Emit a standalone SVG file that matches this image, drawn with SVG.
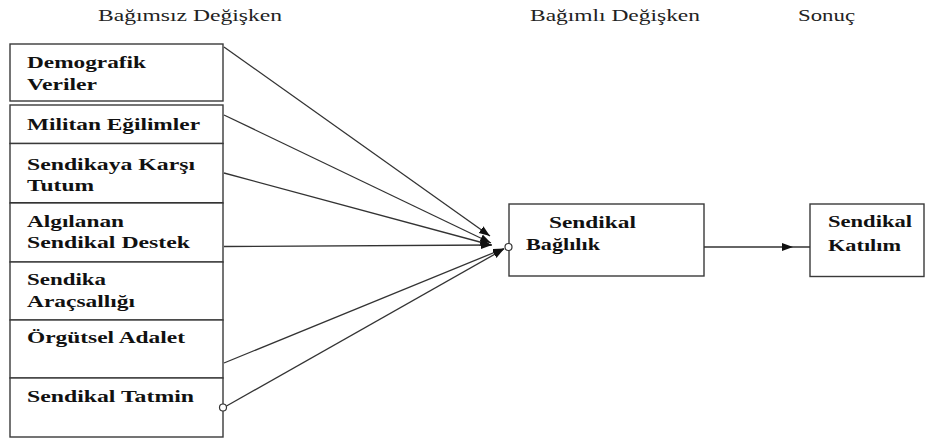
<svg xmlns="http://www.w3.org/2000/svg" width="928" height="438" viewBox="0 0 928 438">
  <defs>
    <style>
      .box { fill: #ffffff; stroke: #3a3a3a; stroke-width: 1.4; }
      .lbl { font-weight: bold; font-size: 17.5px; fill: #111; }
      .hdr { font-size: 16px; fill: #222; }
      .edge { fill: none; stroke: #333; stroke-width: 1.3; }
      .dot { fill: #ffffff; stroke: #333; stroke-width: 1.2; }
    </style>
    <marker id="arrow" markerUnits="userSpaceOnUse" markerWidth="12" markerHeight="9" refX="11" refY="4" orient="auto">
      <path d="M0,0 L11,4 L0,8 z" fill="#111"/>
    </marker>
  </defs>

  <rect width="928" height="438" fill="#ffffff"/>

  <g font-family="'Liberation Serif', 'Times New Roman', Times, 'DejaVu Serif', 'Noto Serif', serif">
  <!-- column headings -->
  <g id="headings">
    <text class="hdr" x="98" y="21" textLength="184" lengthAdjust="spacingAndGlyphs">Bağımsız Değişken</text>
    <text class="hdr" x="530" y="21" textLength="170" lengthAdjust="spacingAndGlyphs">Bağımlı Değişken</text>
    <text class="hdr" x="798" y="21" textLength="57" lengthAdjust="spacingAndGlyphs">Sonuç</text>
  </g>

  <!-- independent variables -->
  <g id="demografik">
    <rect class="box" x="10" y="44" width="213" height="57"/>
    <text class="lbl" x="27" y="68" textLength="119" lengthAdjust="spacingAndGlyphs">Demografik</text>
    <text class="lbl" x="27" y="90" textLength="70" lengthAdjust="spacingAndGlyphs">Veriler</text>
  </g>
  <g id="militan">
    <rect class="box" x="10" y="105" width="213" height="38.5"/>
    <text class="lbl" x="27" y="129.5" textLength="173" lengthAdjust="spacingAndGlyphs">Militan Eğilimler</text>
  </g>
  <g id="sendikaya-karsi">
    <rect class="box" x="10" y="143.5" width="213" height="59.5"/>
    <line x1="10" y1="203" x2="223" y2="203" stroke="#222" stroke-width="2.2"/>
    <text class="lbl" x="27" y="169.5" textLength="168" lengthAdjust="spacingAndGlyphs">Sendikaya Karşı</text>
    <text class="lbl" x="27" y="190.5" textLength="67" lengthAdjust="spacingAndGlyphs">Tutum</text>
  </g>
  <g id="algilanan-destek">
    <rect class="box" x="10" y="203" width="213" height="59"/>
    <text class="lbl" x="27" y="226.5" textLength="97" lengthAdjust="spacingAndGlyphs">Algılanan</text>
    <text class="lbl" x="27" y="248" textLength="163" lengthAdjust="spacingAndGlyphs">Sendikal Destek</text>
  </g>
  <g id="aracsallik">
    <rect class="box" x="10" y="262" width="213" height="58"/>
    <text class="lbl" x="27" y="285" textLength="79" lengthAdjust="spacingAndGlyphs">Sendika</text>
    <text class="lbl" x="27" y="306.5" textLength="108" lengthAdjust="spacingAndGlyphs">Araçsallığı</text>
  </g>
  <g id="orgutsel-adalet">
    <rect class="box" x="10" y="320" width="213" height="58"/>
    <text class="lbl" x="27" y="343" textLength="158" lengthAdjust="spacingAndGlyphs">Örgütsel Adalet</text>
  </g>
  <g id="sendikal-tatmin">
    <rect class="box" x="10" y="378" width="213" height="59"/>
    <text class="lbl" x="27" y="401.5" textLength="167" lengthAdjust="spacingAndGlyphs">Sendikal Tatmin</text>
  </g>

  <!-- dependent variable -->
  <g id="sendikal-baglilik">
    <rect class="box" x="509" y="204" width="195" height="72"/>
    <text class="lbl" x="549" y="227.5" textLength="87" lengthAdjust="spacingAndGlyphs">Sendikal</text>
    <text class="lbl" x="526" y="250" textLength="74" lengthAdjust="spacingAndGlyphs">Bağlılık</text>
  </g>

  <!-- outcome -->
  <g id="sendikal-katilim">
    <rect class="box" x="810" y="204" width="114" height="72.5"/>
    <text class="lbl" x="828" y="226.5" textLength="84" lengthAdjust="spacingAndGlyphs">Sendikal</text>
    <text class="lbl" x="828" y="250.5" textLength="73" lengthAdjust="spacingAndGlyphs">Katılım</text>
  </g>
  </g>

  <!-- connectors -->
  <g id="connectors">
    <line class="edge" x1="224" y1="47" x2="490" y2="236" marker-end="url(#arrow)"/>
    <line class="edge" x1="224" y1="115" x2="491" y2="243" marker-end="url(#arrow)"/>
    <line class="edge" x1="224" y1="173" x2="491" y2="245" marker-end="url(#arrow)"/>
    <line class="edge" x1="224" y1="246.5" x2="492" y2="245" marker-end="url(#arrow)"/>
    <line class="edge" x1="224" y1="363" x2="504" y2="248.5" marker-end="url(#arrow)"/>
    <line class="edge" x1="226.5" y1="406" x2="504" y2="249" marker-end="url(#arrow)"/>
    <circle class="dot" cx="223" cy="407.5" r="3.5"/>
    <circle class="dot" cx="508.5" cy="247" r="3.5"/>
    <path class="edge" d="M704 247 L793 247 L810 247" marker-mid="url(#arrow)"/>
  </g>
</svg>
